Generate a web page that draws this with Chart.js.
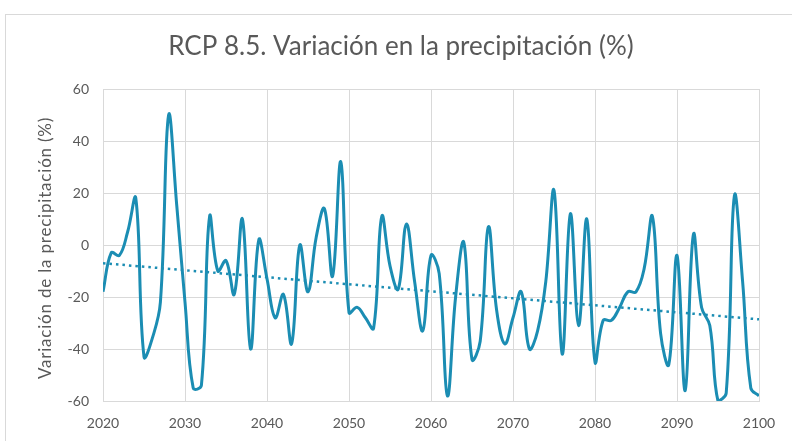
<!DOCTYPE html>
<html>
<head>
<meta charset="utf-8">
<script src="https://cdn.jsdelivr.net/npm/chart.js@4/dist/chart.umd.min.js"></script>
<style>
html,body{margin:0;padding:0;background:#fff;}
#wrap{width:792px;height:441px;position:relative;}
</style>
</head>
<body>
<div id="wrap"><canvas id="c" width="792" height="441"></canvas></div>
<script>
const chartTitle = "RCP 8.5. Variación en la precipitación (%)";
const yAxisTitle = "Variación de la precipitación (%)";
const startYear = 2020;
const variation = [
  -18, -3, -4, 5, 18, -43, -36, -22, 50, 15,
  -22, -55, -54, 11, -10, -6, -19, 10, -40, 2,
  -13, -28, -19, -38, 0, -18, 3, 14, -12, 32,
  -26, -24, -28, -32, 11, -8, -17, 8, -14, -33,
  -4, -11, -58, -20, 1, -44, -37, 7, -25, -38,
  -28, -18, -40, -33, -14, 21, -42, 12, -31, 10,
  -45, -29, -29, -24, -18, -18, -9, 11, -34, -46,
  -4, -56, 4, -24, -31, -60, -57, 19, -14, -55,
  -58
];
const trendYears = [2020, 2100];
const trendValues = [-7, -28.6];
const yTicks = [-60, -40, -20, 0, 20, 40, 60];
const xTicks = [2020, 2030, 2040, 2050, 2060, 2070, 2080, 2090, 2100];

const years = variation.map((_, i) => startYear + i);
const seriesData = years.map((yr, i) => ({x: yr, y: variation[i]}));
const trendData = trendYears.map((yr, i) => ({x: yr, y: trendValues[i]}));

const lineColor = '#1b8db3';
const textColor = '#595959';
const gridColor = '#d9d9d9';
const font = "Lato, 'Open Sans', sans-serif";

const framePlugin = {
  id: 'frame',
  beforeDraw(chart) {
    const ctx = chart.ctx;
    ctx.save();
    ctx.fillStyle = '#fff';
    ctx.fillRect(0, 0, chart.width, chart.height);
    ctx.strokeStyle = gridColor;
    ctx.lineWidth = 1;
    ctx.strokeRect(5.5, 14.5, 900, 600);
    ctx.restore();
  },
  afterDraw(chart) {
    const ctx = chart.ctx;
    ctx.save();
    ctx.fillStyle = textColor;
    ctx.font = "26px " + font;
    ctx.textAlign = 'center';
    ctx.textBaseline = 'middle';
    ctx.fillText(chartTitle, 401, 47);
    ctx.restore();

    ctx.save();
    ctx.fillStyle = textColor;
    ctx.font = "17px " + font;
    try { ctx.letterSpacing = '0.8px'; } catch (e) {}
    ctx.translate(46, 248);
    ctx.rotate(-Math.PI / 2);
    ctx.textAlign = 'center';
    ctx.textBaseline = 'middle';
    ctx.fillText(yAxisTitle, 0, 0);
    ctx.restore();
  }
};

new Chart(document.getElementById('c'), {
  type: 'line',
  data: {
    datasets: [
      {
        label: 'Variación',
        data: seriesData,
        borderColor: lineColor,
        borderWidth: 3,
        pointRadius: 0,
        tension: 0.4,
        fill: false
      },
      {
        label: 'Tendencia',
        data: trendData,
        borderColor: lineColor,
        borderWidth: 2.5,
        borderDash: [2.5, 4],
        pointRadius: 0,
        tension: 0,
        fill: false
      }
    ]
  },
  options: {
    responsive: false,
    animation: false,
    layout: { padding: { top: 89, right: 33, left: 0, bottom: 0 } },
    plugins: {
      legend: { display: false },
      title: { display: false },
      tooltip: { enabled: false }
    },
    scales: {
      x: {
        type: 'linear',
        min: 2020,
        max: 2100,
        afterBuildTicks: s => { s.ticks = xTicks.map(v => ({value: v})); },
        afterFit: s => { s.height = 40; },
        grid: { color: gridColor, drawTicks: false, lineWidth: 1 },
        border: { color: gridColor },
        ticks: {
          color: textColor,
          font: { family: font, size: 14 },
          padding: 14,
          maxRotation: 0,
          callback: v => String(v)
        }
      },
      y: {
        min: -60,
        max: 60,
        afterBuildTicks: s => { s.ticks = yTicks.map(v => ({value: v})); },
        afterFit: s => { s.width = 103; },
        grid: { color: gridColor, drawTicks: false, lineWidth: 1 },
        border: { color: gridColor },
        ticks: {
          color: textColor,
          font: { family: font, size: 14 },
          padding: 14
        }
      }
    }
  },
  plugins: [framePlugin]
});
</script>
</body>
</html>
